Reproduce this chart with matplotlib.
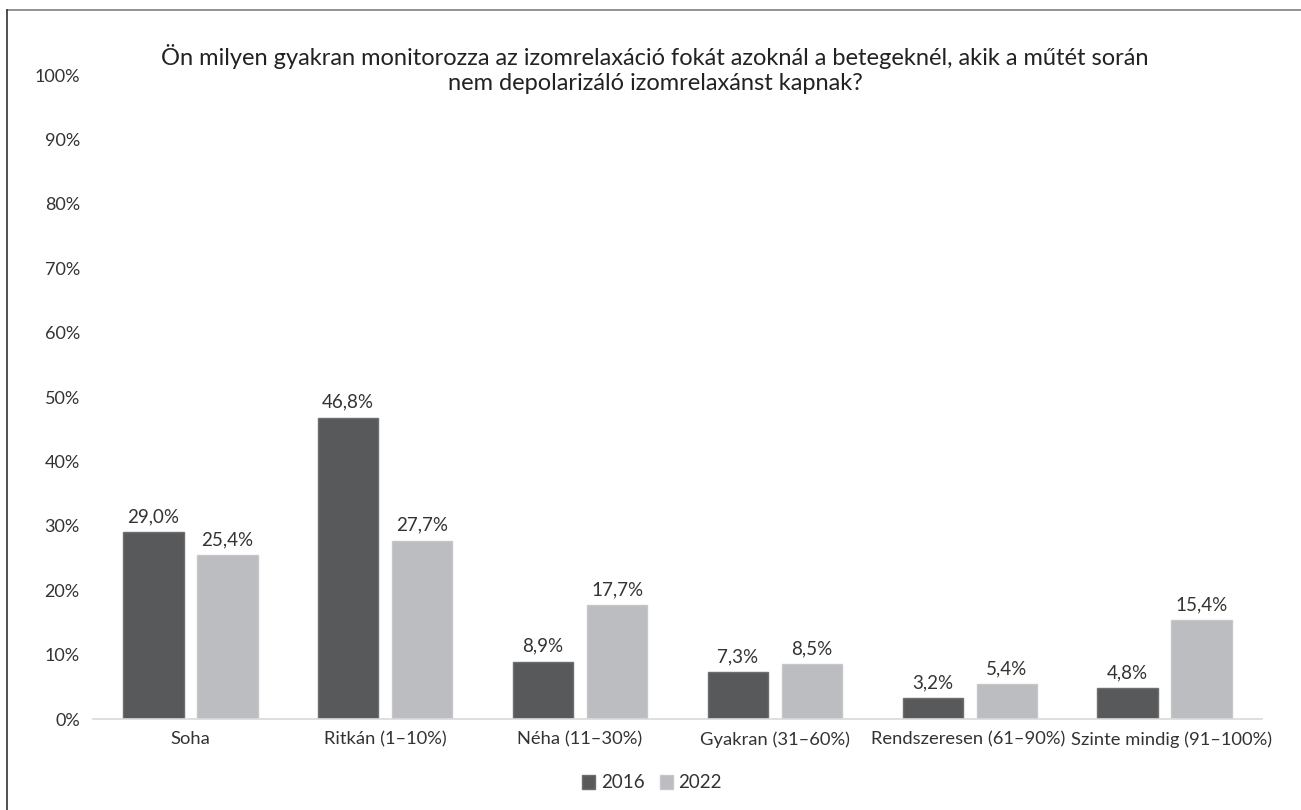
import matplotlib
matplotlib.use("Agg")
import matplotlib.pyplot as plt
import matplotlib.transforms as mtransforms
from matplotlib.lines import Line2D
import numpy as np

categories = ["Soha", "Ritkán (1–10%)", "Néha (11–30%)", "Gyakran (31–60%)",
              "Rendszeresen (61–90%)", "Szinte mindig (91–100%)"]
series_names = ["2016", "2022"]
values_2016 = [29.0, 46.8, 8.9, 7.3, 3.2, 4.8]
values_2022 = [25.4, 27.7, 17.7, 8.5, 5.4, 15.4]
yticks = [0, 10, 20, 30, 40, 50, 60, 70, 80, 90, 100]
title = ("Ön milyen gyakran monitorozza az izomrelaxáció fokát azoknál a betegeknél, akik a műtét során\n"
         "nem depolarizáló izomrelaxánst kapnak?")

plt.rcParams['font.family'] = ['Lato', 'DejaVu Sans']

W, H = 1301, 810
fig = plt.figure(figsize=(W/100, H/100), dpi=100)
ax = fig.add_axes([93/W, 1-719/H, (1262-93)/W, (719-75)/H])

x = np.arange(len(categories))
bw = 0.31
off = 0.19
c1, c2 = "#58595b", "#bcbdc0"
b1 = ax.bar(x - off, values_2016, bw, color=c1, edgecolor="#6d6e70", linewidth=1, label=series_names[0])
b2 = ax.bar(x + off, values_2022, bw, color=c2, edgecolor="#c6c7c9", linewidth=1, label=series_names[1])

for bars, vals in ((b1, values_2016), (b2, values_2022)):
    for r, v in zip(bars, vals):
        ax.annotate(f"{v:.1f}%".replace(".", ","), (r.get_x()+r.get_width()/2, v),
                    xytext=(0, 5), textcoords="offset points", ha="center", va="bottom",
                    fontsize=13.5, color="#333333")

ax.set_xlim(-0.5, len(categories)-0.5)
ax.set_ylim(0, 100)
ax.set_yticks(yticks)
ax.set_yticklabels([f"{t}%" for t in yticks], fontsize=13, color="#333333")
ax.set_xticks(x)
ax.set_xticklabels(categories, fontsize=13.2, color="#333333")
ax.tick_params(axis="both", length=0)
ax.tick_params(axis="y", pad=9.5)
ax.tick_params(axis="x", pad=9)
for s in ("top", "right", "left"):
    ax.spines[s].set_visible(False)
ax.spines["bottom"].set_color("#d9d9d9")
ax.spines["bottom"].set_linewidth(1.2)

# nudge the last two category labels apart as in the reference
lbls = ax.get_xticklabels()
lbls[-1].set_transform(lbls[-1].get_transform() + mtransforms.ScaledTranslation(7/100, 0, fig.dpi_scale_trans))
lbls[-2].set_transform(lbls[-2].get_transform() + mtransforms.ScaledTranslation(-2/100, 0, fig.dpi_scale_trans))

fig.text(655/W, 1-69/H, title, ha="center", va="center", fontsize=17, color="#222222", linespacing=1.22)

leg = fig.legend(handles=[b1, b2], labels=series_names, loc="center", bbox_to_anchor=(652/W, 1-783/H),
                 ncol=2, frameon=False, fontsize=13.5, handlelength=0.7, handleheight=0.7,
                 handletextpad=0.3, columnspacing=0.8)
for t in leg.get_texts():
    t.set_color("#333333")

fig.add_artist(Line2D([7/W, 1.0], [1-10/H, 1-10/H], color="#808080", linewidth=1.2, transform=fig.transFigure))
fig.add_artist(Line2D([7/W, 7/W], [0, 1-10/H], color="#333333", linewidth=1.2, transform=fig.transFigure))

fig.savefig("out.png", dpi=100)
